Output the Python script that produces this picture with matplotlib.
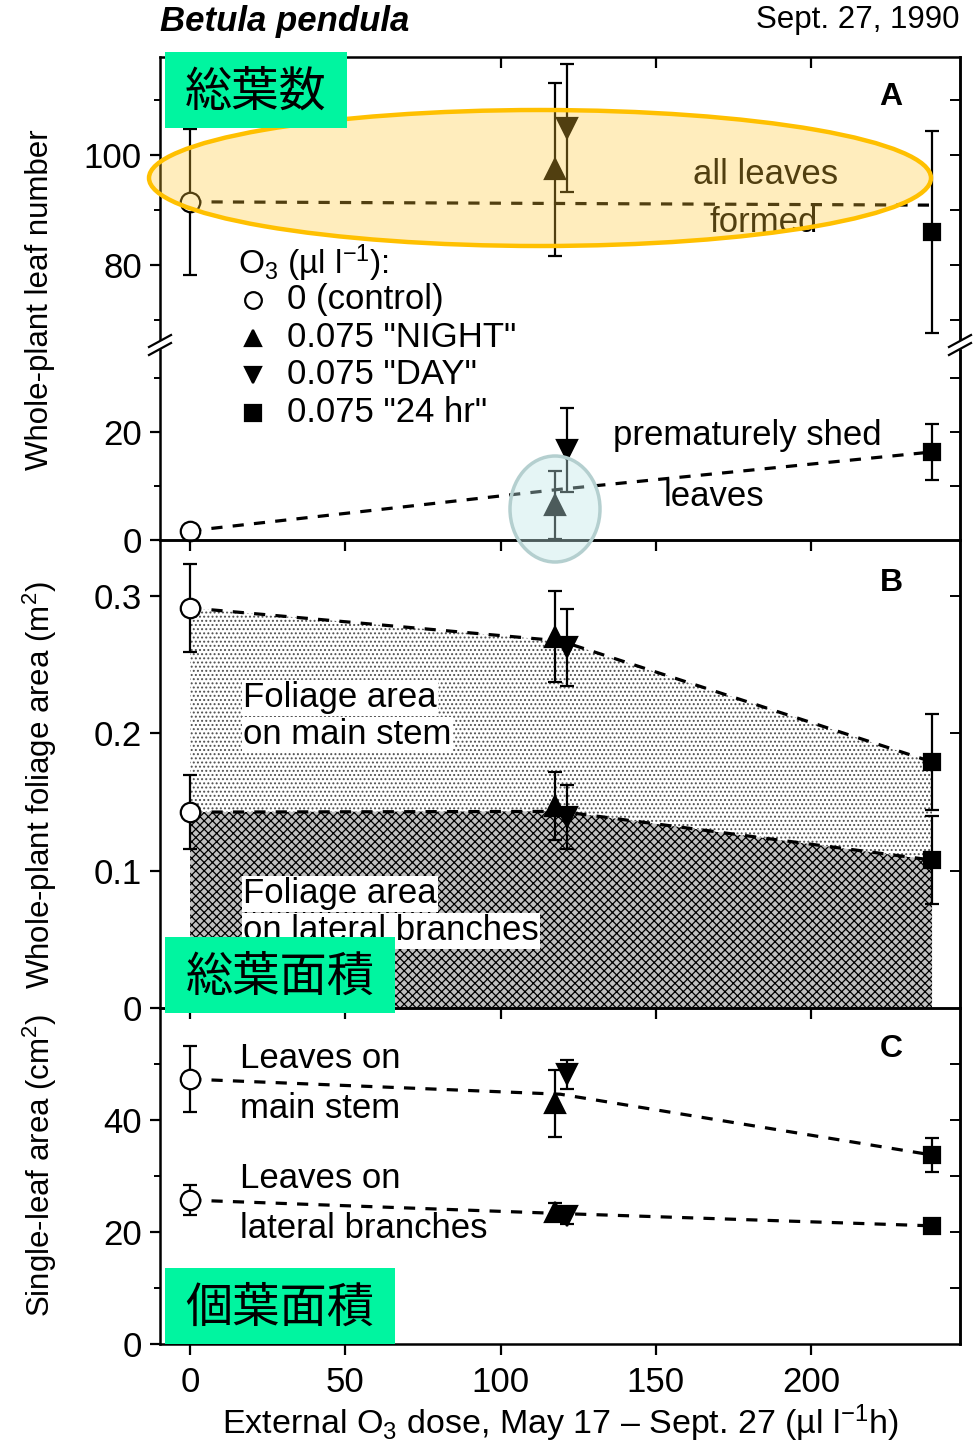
"""
Betula pendula, Sept. 27 1990 - leaf number / foliage area / single-leaf area
vs external O3 dose (annotated figure, Japanese labels on green boxes).
"""
import numpy as np
import matplotlib
matplotlib.use("Agg")
import matplotlib.pyplot as plt
from matplotlib.patches import Ellipse, Rectangle

plt.rcParams['font.family'] = ['Liberation Sans', 'Noto Sans CJK JP', 'DejaVu Sans']
plt.rcParams['mathtext.fontset'] = 'custom'
plt.rcParams['mathtext.rm'] = 'Liberation Sans'
plt.rcParams['mathtext.it'] = 'Liberation Sans:italic'
plt.rcParams['hatch.linewidth'] = 0.9

# ---------- data ----------
treatments = ['0 (control)', '0.075 "NIGHT"', '0.075 "DAY"', '0.075 "24 hr"']
dose = [0, 117.4, 121.3, 239]          # ul l-1 h
line_x = [0, 119.3, 239]               # vertices of the dashed trend lines

# A: whole-plant leaf number
formed = [91.5, 97.4, 104.9, 86.0]
formed_err = [13.2, 15.7, 11.7, 18.4]
formed_line = [91.5, 91.2, 90.9]
shed = [1.7, 6.5, 16.7, 16.3]
shed_err = [0, 6.3, 7.8, 5.1]
shed_line = [1.7, 9.4, 16.3]

# B: whole-plant foliage area (m2)
area_main = [0.291, 0.270, 0.2625, 0.179]
area_main_err = [0.032, 0.033, 0.028, 0.035]
area_main_line = [0.291, 0.267, 0.179]
area_lat = [0.1425, 0.147, 0.139, 0.1076]
area_lat_err = [0.027, 0.025, 0.0235, 0.032]
area_lat_line = [0.1425, 0.143, 0.1076]

# C: single-leaf area (cm2)
leaf_main = [47.3, 43.0, 48.2, 33.75]
leaf_main_err = [5.9, 6.0, 2.6, 3.1]
leaf_main_line = [47.3, 44.6, 33.75]
leaf_lat = [25.7, 23.6, 22.9, 21.1]
leaf_lat_err = [2.75, 1.5, 1.4, 1.2]
leaf_lat_line = [25.7, 23.3, 21.1]

xticks = [0, 50, 100, 150, 200]

MARKERS = ['o', '^', 'v', 's']
FACES = ['white', 'black', 'black', 'black']
SIZES = [14, 14, 14, 12]
GREEN = '#00F5A0'
FS = 25       # in-plot text
TFS = 25      # tick labels

W, H = 978, 1445
fig = plt.figure(figsize=(W / 100, H / 100), dpi=100)


def rect(top, bottom):
    return [160 / W, 1 - bottom / H, 800 / W, (bottom - top) / H]


axA1 = fig.add_axes(rect(57, 345))
axA2 = fig.add_axes(rect(345, 540))
axB = fig.add_axes(rect(540, 1008))
axC = fig.add_axes(rect(1008, 1344))
axes = [axA1, axA2, axB, axC]


def points(ax, y, err):
    for xi, yi, ei, m, fc, ms in zip(dose, y, err, MARKERS, FACES, SIZES):
        ax.errorbar(xi, yi, yerr=ei if ei else None, fmt=m, ms=ms, mfc=fc,
                    mec='black', mew=1.6, ecolor='black', elinewidth=1.6,
                    capsize=5, capthick=1.6, zorder=4, clip_on=False)


def trend(ax, y):
    ax.plot(line_x, y, color='black', lw=2.3, ls=(0, (3.5, 3.2)), zorder=3)


points(axA1, formed, formed_err); trend(axA1, formed_line)
points(axA2, shed, shed_err); trend(axA2, shed_line)

axB.fill_between(line_x, area_lat_line, area_main_line, facecolor='white',
                 edgecolor='#505050', hatch='....', linewidth=0, zorder=1)
axB.fill_between(line_x, 0, area_lat_line, facecolor='#c0c0c0',
                 edgecolor='black', hatch='xxxx', linewidth=0, zorder=1)
points(axB, area_main, area_main_err); trend(axB, area_main_line)
points(axB, area_lat, area_lat_err); trend(axB, area_lat_line)

points(axC, leaf_main, leaf_main_err); trend(axC, leaf_main_line)
points(axC, leaf_lat, leaf_lat_err); trend(axC, leaf_lat_line)

# ---------- axes styling ----------
axA1.set_ylim(65.5, 117.8)
axA1.set_yticks([80, 100]); axA1.set_yticks([70, 90, 110], minor=True)
axA2.set_ylim(0, 36.1)
axA2.set_yticks([0, 20]); axA2.set_yticks([10, 30], minor=True)
axB.set_ylim(0, 0.3404)
axB.set_yticks([0, 0.1, 0.2, 0.3]); axB.set_yticklabels(['0', '0.1', '0.2', '0.3'])
axC.set_ylim(0, 60)
axC.set_yticks([0, 20, 40]); axC.set_yticks([10, 30, 50], minor=True)

for ax in axes:
    ax.set_facecolor('none')
    ax.set_xlim(-9.7, 248)
    ax.set_xticks(xticks)
    for s in ax.spines.values():
        s.set_linewidth(1.8)
    ax.tick_params(axis='y', which='major', direction='out', length=7, width=1.6,
                   labelsize=TFS, pad=6)
    ax.tick_params(axis='y', which='minor', direction='out', length=4, width=1.4)
    ax.tick_params(axis='x', direction='out', length=8, width=1.6, labelbottom=False)
    sec = ax.secondary_yaxis('right')
    ticks = sorted(list(ax.get_yticks()) + list(ax.get_yticks(minor=True)))
    lo, hi = ax.get_ylim()
    sec.set_yticks([t for t in ticks if lo < t < hi])
    sec.tick_params(direction='in', length=7, width=1.4, labelright=False)
    sec.spines['right'].set_linewidth(1.8)

axA1.spines['bottom'].set_visible(False)
axA2.spines['top'].set_visible(False)
axA1.tick_params(axis='x', bottom=False, top=True, direction='in')
axC.tick_params(axis='x', labelbottom=True, labelsize=TFS, pad=8)
axC.set_xlabel('External O$_3$ dose, May 17 – Sept. 27 (µl l$^{-1}$h)',
               fontsize=24.5, labelpad=2)

# ---------- overlay in pixel coordinates ----------
ov = fig.add_axes([0, 0, 1, 1], zorder=10)
ov.set_xlim(0, W); ov.set_ylim(H, 0); ov.axis('off')

ov.text(160, 22, 'Betula pendula', fontsize=25, fontweight='bold', style='italic',
        ha='left', va='center')
ov.text(960, 20, 'Sept. 27, 1990', fontsize=22.5, ha='right', va='center')
for lab, yc in [('Whole-plant leaf number', 300),
                ('Whole-plant foliage area (m$^2$)', 785),
                ('Single-leaf area (cm$^2$)', 1165)]:
    ov.text(40, yc, lab, fontsize=22.5, rotation=90, ha='center', va='center')
for lab, yc in [('A', 97), ('B', 583), ('C', 1049)]:
    ov.text(891, yc, lab, fontsize=23, fontweight='bold', ha='center', va='center')

# legend
ov.text(238, 263, 'O$_3$ (µl l$^{-1}$):', fontsize=FS - 1, ha='left', va='center')
for i, (lab, m, fc) in enumerate(zip(treatments, MARKERS, FACES)):
    yy = 300 + 37.5 * i
    ov.plot(253, yy, marker=m, ms=12 if m != 's' else 11, mfc=fc, mec='black', mew=1.6)
    ov.text(287, yy, lab, fontsize=FS, ha='left', va='center')

# in-plot labels
for lab, x, y in [('all leaves', 693, 175), ('formed', 710, 222),
                  ('prematurely shed', 613, 436), ('leaves', 664, 496),
                  ('Leaves on', 240, 1058), ('main stem', 240, 1108),
                  ('Leaves on', 240, 1178), ('lateral branches', 240, 1228)]:
    ov.text(x, y, lab, fontsize=FS, ha='left', va='center', zorder=1)
for lab, y in [('Foliage area', 698), ('on main stem', 735),
               ('Foliage area', 894), ('on lateral branches', 931)]:
    ov.text(243, y, lab, fontsize=FS, ha='left', va='center', zorder=1,
            bbox=dict(facecolor='white', edgecolor='none', pad=1.0))

# axis break marks
for xb in (160, 960):
    ov.plot([xb - 5, xb + 5], [345, 345], color='white', lw=6, zorder=1.5)
    for dy in (-4, 4):
        ov.plot([xb - 11, xb + 11], [345 + dy + 6, 345 + dy - 6], color='black',
                lw=1.6, zorder=1.6)

# highlight ellipses
ov.add_patch(Ellipse((540, 178), 782, 136, facecolor=(1.0, 0.78, 0.2, 0.32),
                     edgecolor='#FFC000', lw=3.2, zorder=2))
ov.add_patch(Ellipse((555, 509), 90, 106, facecolor=(0.75, 0.9, 0.9, 0.4),
                     edgecolor='#B4CFCF', lw=2.5, zorder=2))

# Japanese labels on green boxes
for lab, x0, x1, y0, y1 in [('総葉数', 165, 347, 52, 128),
                             ('総葉面積', 165, 395, 937, 1013),
                             ('個葉面積', 165, 395, 1268, 1344)]:
    ov.add_patch(Rectangle((x0, y0), x1 - x0, y1 - y0, facecolor=GREEN,
                           edgecolor='none', zorder=5))
    ov.text((x0 + x1) / 2, (y0 + y1) / 2 + 2, lab, fontsize=34,
            family=['Noto Sans CJK JP', 'DejaVu Sans'], ha='center', va='center',
            zorder=6)

fig.savefig('out.png', dpi=100)
